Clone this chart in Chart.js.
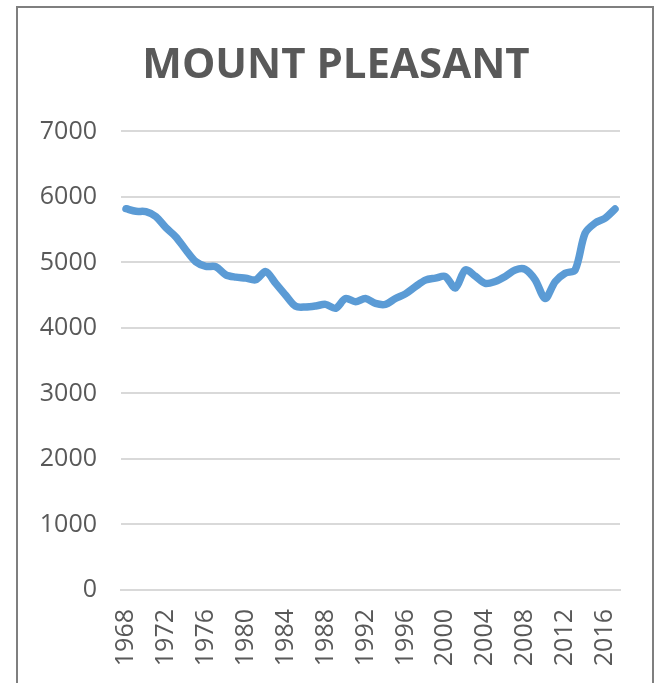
<!DOCTYPE html>
<html>
<head>
<meta charset="utf-8">
<title>Mount Pleasant</title>
<script src="https://cdn.jsdelivr.net/npm/chart.js@4"></script>
<style>
    html, body { margin: 0; padding: 0; background: #ffffff; overflow: hidden; }
    #wrap { position: relative; width: 658px; height: 683px; }
    #frame {
        position: absolute; left: 16px; top: 6px; width: 634px; height: 700px;
        border: 2px solid #7f7f7f; pointer-events: none;
    }
</style>
</head>
<body>
<div id="wrap">
    <canvas id="myLineChart" width="658" height="683"></canvas>
    <div id="frame"></div>
</div>
<script>
// Years on the x axis
var years = [];
for (var y = 1968; y <= 2017; y++) { years.push(String(y)); }

// Values, 1968 - 2017
var population = [
    5820, 5780, 5775, 5700, 5530, 5390, 5190, 5010, 4940, 4935,
    4810, 4775, 4760, 4735, 4860, 4680, 4500, 4330, 4320, 4335,
    4360, 4300, 4450, 4400, 4450, 4375, 4360, 4450, 4520, 4630,
    4730, 4760, 4785, 4610, 4885, 4790, 4680, 4710, 4785, 4885,
    4895, 4735, 4450, 4705, 4835, 4885, 5445, 5600, 5675, 5815
];

var yTicks = [0, 1000, 2000, 3000, 4000, 5000, 6000, 7000];

document.addEventListener('DOMContentLoaded', (event) => {
    var ctx = document.getElementById('myLineChart').getContext('2d');

    var data = {
        labels: years,
        datasets: [{
            label: 'Mount Pleasant',
            data: population,
            borderColor: '#5b9bd5',
            backgroundColor: '#5b9bd5',
            borderWidth: 7.5,
            borderCapStyle: 'round',
            borderJoinStyle: 'round',
            pointRadius: 0,
            tension: 0.3,
            fill: false
        }]
    };

    var options = {
        responsive: false,
        animation: false,
        layout: {
            padding: { left: 20, right: 6, top: 41, bottom: 0 }
        },
        plugins: {
            legend: { display: false },
            tooltip: { enabled: false },
            title: {
                display: true,
                text: 'MOUNT PLEASANT',
                color: '#595959',
                font: { family: 'Open Sans', size: 42, weight: 'bold' },
                padding: { top: 0, bottom: 40 }
            }
        },
        scales: {
            x: {
                offset: true,
                grid: { display: false, drawTicks: false },
                border: { display: true, color: '#d9d9d9', width: 2 },
                ticks: {
                    autoSkip: false,
                    maxRotation: 90,
                    minRotation: 90,
                    padding: 19,
                    color: '#595959',
                    font: { family: 'Open Sans', size: 25 },
                    callback: function (value, index) {
                        return index % 4 === 0 ? years[index] : '';
                    }
                },
                afterFit: function (scale) {
                    scale.height = 93;
                    scale.paddingLeft = 0;
                    scale.paddingRight = 0;
                }
            },
            y: {
                min: 0,
                max: 7000,
                afterBuildTicks: function (scale) {
                    scale.ticks = yTicks.map(function (v) { return { value: v }; });
                },
                grid: { color: '#d9d9d9', lineWidth: 2, drawTicks: false },
                border: { display: false },
                ticks: {
                    padding: 24,
                    color: '#595959',
                    font: { family: 'Open Sans', size: 25 },
                    callback: function (value) { return String(value); }
                },
                afterFit: function (scale) { scale.width = 101; }
            },
            // empty right axis, only keeps the plot off the right frame
            yRight: {
                position: 'right',
                min: 0,
                max: 7000,
                grid: { display: false, drawTicks: false },
                border: { display: false },
                ticks: { display: false },
                afterFit: function (scale) { scale.width = 32; }
            }
        }
    };

    var myLineChart = new Chart(ctx, {
        type: 'line',
        data: data,
        options: options
    });
});
</script>
</body>
</html>
